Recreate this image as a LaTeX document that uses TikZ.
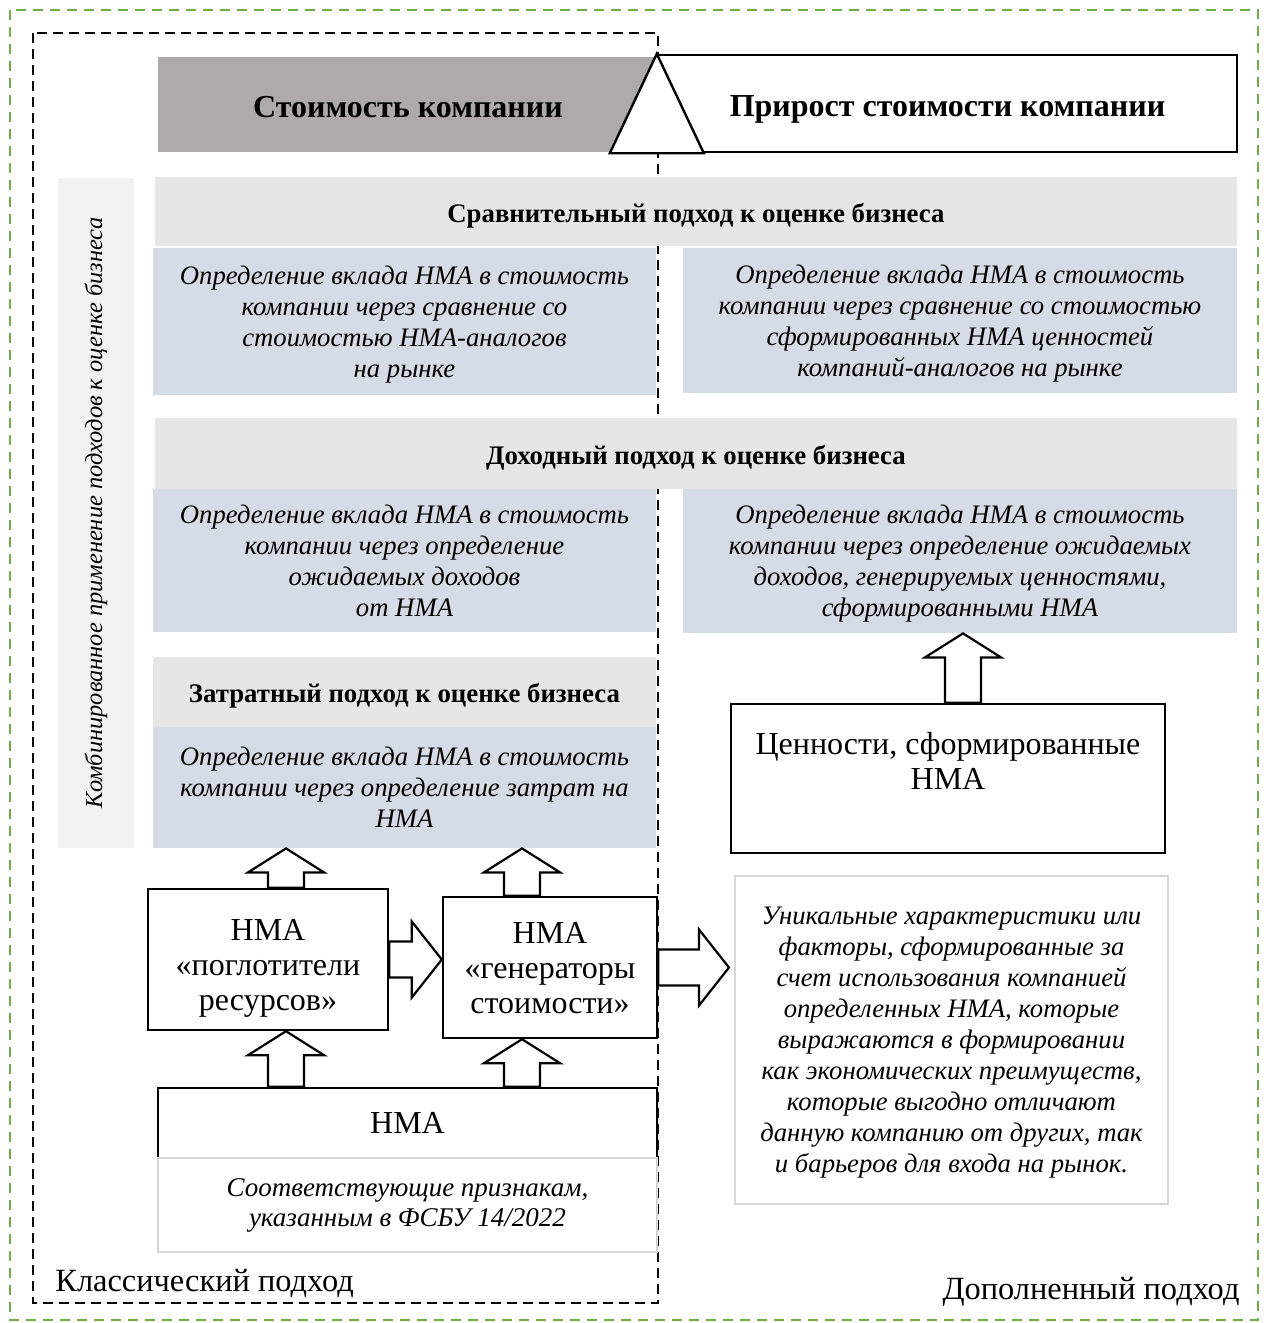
\documentclass[tikz,border=0pt]{standalone}
\usepackage{fontspec}
\setmainfont{Liberation Serif}
\usetikzlibrary{calc,positioning}

\definecolor{framegreen}{HTML}{70AD47}
\definecolor{titlegrey}{HTML}{AEAAAA}
\definecolor{headgrey}{HTML}{E6E6E6}
\definecolor{sidegrey}{HTML}{F2F2F2}
\definecolor{descblue}{HTML}{D6DCE5}
\definecolor{softline}{HTML}{D6D6D6}

% block arrow pointing up: axis x from #1, from y of #2 to y of #3
\newcommand{\upblock}[3]{%
  \draw[blockarrow] let \p1=(#1), \p2=(#2), \p3=(#3) in
    (\x1-9pt,\y2) -- (\x1-9pt,\y3-12pt) -- (\x1-19pt,\y3-12pt) -- (\x1,\y3)
    -- (\x1+19pt,\y3-12pt) -- (\x1+9pt,\y3-12pt) -- (\x1+9pt,\y2) -- cycle;}
% block arrow pointing right: axis y from #1, from x of #2 to x of #3
\newcommand{\rightblock}[3]{%
  \draw[blockarrow] let \p1=(#1), \p2=(#2), \p3=(#3) in
    (\x2,\y1-9pt) -- (\x3-15pt,\y1-9pt) -- (\x3-15pt,\y1-19pt) -- (\x3,\y1)
    -- (\x3-15pt,\y1+19pt) -- (\x3-15pt,\y1+9pt) -- (\x2,\y1+9pt) -- cycle;}

\begin{document}
\begin{tikzpicture}[x=0.5pt,y=-0.5pt,
  plainbox/.style={draw, line width=1.2pt, fill=white, inner sep=0pt, align=center,
    text depth=0pt, font=\fontsize{16}{17.5}\selectfont},
  titlebox/.style={inner sep=0pt, align=center, text height=13pt, text depth=0.4pt,
    font=\fontsize{16}{19}\selectfont\bfseries},
  headbox/.style={fill=headgrey, inner sep=0pt, align=center, text height=11pt, text depth=0.1pt,
    font=\fontsize{13.4}{15}\selectfont\bfseries},
  descbox/.style={fill=descblue, inner sep=0pt, align=center, text depth=0pt,
    font=\fontsize{13.35}{15.5}\selectfont\itshape},
  notebox/.style={draw=softline, line width=1pt, fill=white, inner sep=0pt, align=center,
    font=\fontsize{13.35}{15.5}\selectfont\itshape},
  blockarrow/.style={draw, line width=1.1pt, fill=white, line join=miter},
  zonelabel/.style={inner sep=0pt, font=\fontsize{16.2}{18}\selectfont}]
\useasboundingbox (0,0) rectangle (1270,1323);

% outer frames
\draw[framegreen, line width=1pt, dash pattern=on 5pt off 3.5pt] (10,10) rectangle (1258,1320);
\draw[line width=1pt, dash pattern=on 5pt off 3pt] (33,33) rectangle (658,1303);

% company value
\node[titlebox, fill=titlegrey, minimum width=250pt, minimum height=47.5pt] at (408,104.5) (costv) {Стоимость компании};
\node[titlebox, draw, line width=1.2pt, fill=white, minimum width=289.5pt, minimum height=48.5pt] at (947.5,103.5) (growth) {Прирост стоимости компании};
\draw[line width=1.2pt, fill=white, line join=miter] (growth.north west) -- ([xshift=-23.5pt]growth.south west) -- ([xshift=23.5pt]growth.south west) -- cycle;

% side strip
\node[fill=sidegrey, rotate=90, inner sep=0pt, minimum width=335pt, minimum height=38pt,
  font=\fontsize{12.2}{15}\selectfont\itshape] at (96,513) (combo) {Комбинированное применение подходов к оценке бизнеса};

% comparative approach
\node[headbox, minimum width=541pt, minimum height=34.5pt] at (696,211.5) (hdrcomp) {Сравнительный подход к оценке бизнеса};
\node[descbox, minimum width=251.5pt, minimum height=73.5pt] at (404.5,321.5) (compL)
  {Определение вклада НМА в стоимость\\компании через сравнение со\\стоимостью НМА-аналогов\\на рынке};
\node[descbox, minimum width=277pt, minimum height=72.5pt] at (960,320.5) (compR)
  {Определение вклада НМА в стоимость\\компании через сравнение со стоимостью\\сформированных НМА ценностей\\компаний-аналогов на рынке};

% income approach
\node[headbox, minimum width=541pt, minimum height=35.5pt] at (696,453.5) (hdrinc) {Доходный подход к оценке бизнеса};
\node[descbox, minimum width=251.5pt, minimum height=71.5pt] at (404.5,560.5) (incL)
  {Определение вклада НМА в стоимость\\компании через определение\\ожидаемых доходов\\от НМА};
\node[descbox, minimum width=277pt, minimum height=72pt] at (960,561) (incR)
  {Определение вклада НМА в стоимость\\компании через определение ожидаемых\\доходов, генерируемых ценностями,\\сформированными НМА};

% cost approach
\node[headbox, minimum width=251.5pt, minimum height=35pt] at (404.5,692) (hdrcost) {Затратный подход к оценке бизнеса};
\node[descbox, minimum width=251.5pt, minimum height=60.5pt] at (404.5,787.5) (costL)
  {Определение вклада НМА в стоимость\\компании через определение затрат на\\НМА};

% intangible assets
\node[plainbox, minimum width=120pt, minimum height=70.5pt] at (268,959.5) (absorb) {\rule{0pt}{16pt}НМА\\«поглотители\\ресурсов»};
\node[plainbox, minimum width=107pt, minimum height=70.5pt] at (550,967.5) (gener) {НМА\\«генераторы\\стоимости»};
\node[plainbox, minimum width=249.5pt, minimum height=35pt] at (407.5,1123) (nma) {НМА};
\node[notebox, minimum width=249.5pt, minimum height=47pt, font=\fontsize{13.5}{15}\selectfont\itshape] at (407.5,1205) (fsbu)
  {Соответствующие признакам,\\указанным в ФСБУ 14/2022};

% values formed by intangibles
\node[plainbox, minimum width=217pt, minimum height=74.5pt] at (948,778.5) (valbox) {Ценности, сформированные\\НМА\\\strut};
\node[notebox, text depth=0pt, minimum width=216.5pt, minimum height=164pt] at (951.5,1040) (uniq)
  {Уникальные характеристики или\\факторы, сформированные за\\счет использования компанией\\определенных НМА, которые\\выражаются в формировании\\как экономических преимуществ,\\которые выгодно отличают\\данную компанию от других, так\\и барьеров для входа на рынок.};

% arrows
\coordinate (axA) at ([xshift=9pt]absorb.north);
\coordinate (axB) at ([xshift=-14pt]gener.north);
\coordinate (axV) at ([xshift=7.5pt]valbox.north);
\coordinate (uniqtip) at ([xshift=-2.5pt]uniq.west);
\upblock{axA}{absorb.north}{costL.south}
\upblock{axB}{gener.north}{costL.south}
\upblock{axA}{nma.north}{absorb.south}
\upblock{axB}{nma.north}{gener.south}
\upblock{axV}{valbox.north}{incR.south}
\rightblock{absorb.east}{absorb.east}{gener.west}
\rightblock{gener.east}{gener.east}{uniqtip}

% zone labels
\node[zonelabel, anchor=west] at (55,1284) (classic) {Классический подход};
\node[zonelabel] at (1091,1292) (extended) {Дополненный подход};
\end{tikzpicture}
\end{document}
